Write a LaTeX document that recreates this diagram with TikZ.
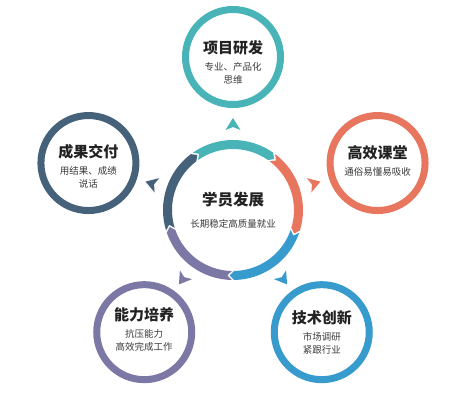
\documentclass[tikz,border=0pt]{standalone}
\usepackage{fontspec}
\setmainfont{Noto Sans CJK SC}
\usetikzlibrary{positioning}
\definecolor{tealc}{HTML}{48B4B8}
\definecolor{coral}{HTML}{E8765F}
\definecolor{skyc}{HTML}{379BCD}
\definecolor{lilac}{HTML}{7C78A5}
\definecolor{slate}{HTML}{46627A}
\definecolor{ink}{HTML}{222222}
\definecolor{txt}{HTML}{3A3A3A}
\pgfdeclareradialshading{glow}{\pgfpoint{0bp}{0bp}}{color(0bp)=(white); color(36bp)=(white); color(50bp)=(black!10)}
% one piece of the middle ring: colour, start angle, end angle (clockwise)
\newcommand\arcseg[3]{%
  \fill[#1] (#2:70) arc[start angle=#2, end angle=#3, radius=70] -- ({#3-4}:65.5)
    -- (#3:61) arc[start angle=#3, end angle=#2, radius=61] -- ({#2-4}:65.5) -- cycle;}

\begin{document}
\begin{tikzpicture}[
  x=1pt, y=1pt,
  node distance=7pt,
  disc/.style={circle, draw=#1, line width=7pt, minimum size=95pt, shading=glow},
  ttl/.style={font=\fontsize{15}{17}\selectfont\bfseries, text=ink, inner sep=0pt},
  sub/.style={font=\fontsize{9.5}{13}\selectfont, text=txt, align=center, inner sep=0pt},
  bigttl/.style={font=\fontsize{15.5}{17}\selectfont\bfseries, text=ink, inner sep=0pt}
]
\useasboundingbox (-233,-190) rectangle (227,210);

% middle ring
\arcseg{tealc}{125}{55}
\arcseg{coral}{53}{-17}
\arcseg{skyc}{-19}{-89}
\arcseg{lilac}{-91}{-161}
\arcseg{slate}{-163}{-233}

\node[bigttl] (core) at (0,10) {学员发展};
\node[sub] (coresub) at (0,-14) {长期稳定高质量就业};

% pointers
\fill[tealc, shift={(90:86)}, rotate=90] (6,0) -- (-6,7.5) -- (-3,0) -- (-6,-7.5) -- cycle;
\fill[coral, shift={(18:86)}, rotate=18] (6,0) -- (-6,7.5) -- (-3,0) -- (-6,-7.5) -- cycle;
\fill[skyc, shift={(-54:86)}, rotate=-54] (6,0) -- (-6,7.5) -- (-3,0) -- (-6,-7.5) -- cycle;
\fill[lilac, shift={(-126:86)}, rotate=-126] (6,0) -- (-6,7.5) -- (-3,0) -- (-6,-7.5) -- cycle;
\fill[slate, shift={(162:86)}, rotate=162] (6,0) -- (-6,7.5) -- (-3,0) -- (-6,-7.5) -- cycle;

% outer circles
\node[disc=tealc] (proj) at (90:153) {};
\node[ttl] (projt) at ([yshift=9pt]proj.center) {项目研发};
\node[sub, below=of projt] (projs) {专业、产品化\\思维};

\node[disc=coral] (class) at (18:152) {};
\node[ttl] (classt) at ([yshift=10pt]class.center) {高效课堂};
\node[sub, below=of classt] (classs) {通俗易懂易吸收};

\node[disc=skyc] (tech) at (-54:151) {};
\node[ttl] (techt) at ([yshift=14pt]tech.center) {技术创新};
\node[sub, below=of techt] (techs) {市场调研\\紧跟行业};

\node[disc=lilac] (skill) at (-126:151) {};
\node[ttl] (skillt) at ([yshift=17pt]skill.center) {能力培养};
\node[sub, below=of skillt] (skills) {抗压能力\\高效完成工作};

\node[disc=slate] (deliv) at (162:152) {};
\node[ttl] (delivt) at ([yshift=11pt]deliv.center) {成果交付};
\node[sub, below=of delivt] (delivs) {用结果、成绩\\说话};
\end{tikzpicture}
\end{document}
